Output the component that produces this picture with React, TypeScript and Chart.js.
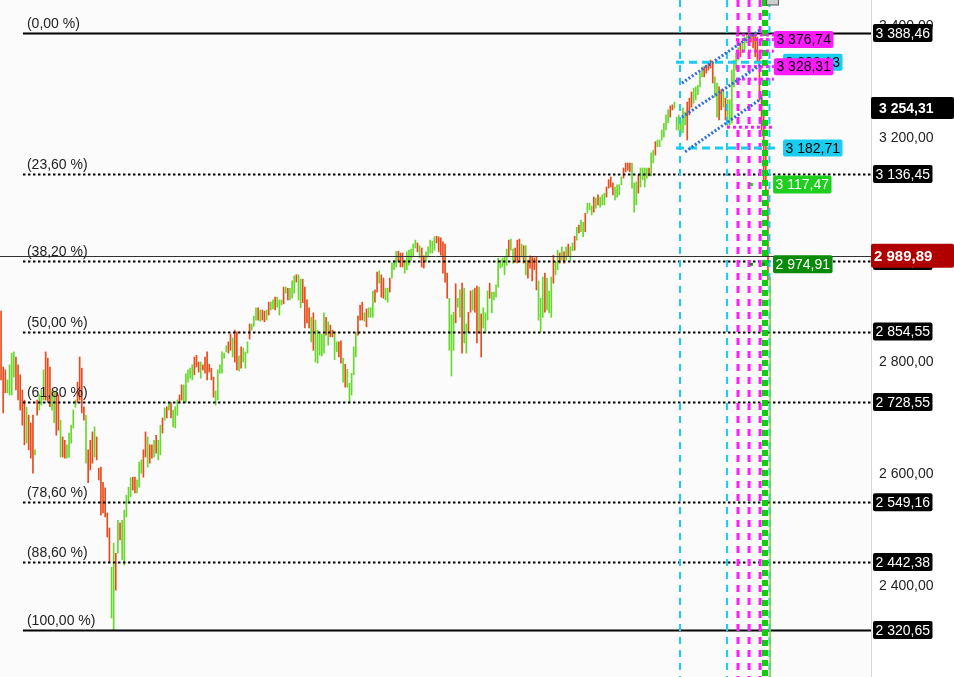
import { useEffect, useRef } from 'react';
import { Chart, registerables } from 'chart.js';

Chart.register(...registerables);

// ---- price bars (high / low / direction u=up d=down) ----
const highs = [
  2891, 2791, 2786, 2768, 2795, 2816, 2818, 2809, 2795, 2777,
  2750, 2732, 2719, 2705, 2691, 2705, 2643, 2732, 2741, 2750,
  2786, 2818, 2807, 2791, 2750, 2745, 2745, 2741, 2696, 2666,
  2660, 2652, 2673, 2687, 2714, 2732, 2764, 2809, 2789, 2720,
  2705, 2643, 2660, 2675, 2684, 2666, 2610,
  2612, 2585, 2575, 2530, 2503, 2433, 2476, 2458, 2517, 2512,
  2517, 2535, 2562, 2576, 2593, 2594, 2594, 2589, 2621, 2625,
  2643, 2675, 2666, 2652, 2652, 2660, 2669, 2660, 2687, 2700,
  2718, 2720, 2727, 2727, 2714, 2720, 2732, 2741, 2759, 2759,
  2779, 2786, 2789, 2795, 2809, 2812, 2800, 2800, 2795, 2809,
  2818, 2796, 2789, 2773, 2748, 2786, 2795, 2818, 2816, 2829,
  2836, 2850, 2843, 2857, 2854, 2811, 2827, 2825, 2818, 2836,
  2868, 2868, 2882, 2897, 2897, 2893, 2893, 2891, 2893, 2907,
  2907, 2911, 2916, 2916, 2911, 2911, 2934, 2934, 2932, 2932,
  2945, 2954, 2956, 2956, 2948, 2948, 2934, 2911, 2897, 2880,
  2888, 2875, 2857, 2850, 2850, 2888, 2880, 2872, 2866, 2857,
  2854, 2836, 2836, 2838, 2807, 2796, 2787, 2762, 2780, 2827,
  2852, 2882, 2902, 2907, 2888, 2895, 2897, 2897, 2927, 2929,
  2961, 2963, 2956, 2950, 2932, 2932, 2950, 2977, 2982, 2998,
  2998, 2995, 2995, 2982, 2997, 3000, 3002, 3011, 3018, 3013,
  3008, 3004, 2990, 2997, 3006, 3018, 3016, 3024, 3025, 3024,
  3022, 3015, 3011, 2959, 2914, 2884, 2889, 2940, 2914, 2929,
  2941, 2932, 2868, 2889, 2927, 2929, 2932, 2936, 2934, 2886,
  2897, 2888, 2927, 2941, 2925, 2925, 2938, 2986, 2982, 2986,
  2988, 3002, 3018, 3020, 3002, 3004, 3018, 3020, 3011, 3008,
  3008, 2982, 2990, 2988, 2986, 2988, 2945, 2914, 2952, 2959,
  2950, 2927, 2952, 2991, 2979, 3000, 2995, 3006, 2997, 3006,
  3011, 3006, 3013, 3025, 3041, 3045, 3054, 3050, 3066, 3084,
  3084, 3079, 3095, 3093, 3099, 3095, 3099, 3102, 3113, 3126,
  3131, 3120, 3113, 3117, 3117, 3131, 3147, 3156, 3156, 3156,
  3156, 3120, 3122, 3134, 3147, 3147, 3147, 3147, 3147, 3174,
  3179, 3194, 3197, 3197, 3215, 3227, 3242, 3251, 3258, 3260,
  3265, 3238, 3242, 3233, 3254, 3247, 3265, 3272, 3283, 3290,
  3292, 3295, 3317, 3328, 3328, 3331, 3337, 3340, 3335, 3310,
  3299, 3292, 3287, 3287, 3272, 3269, 3269, 3322, 3340, 3353,
  3362, 3371, 3372, 3381, 3388.46, 3385, 3386, 3388, 3388, 3381,
  3358, 3278, 3251, 3188, 3108,
];

const lows = [
  2768, 2709, 2745, 2745, 2741, 2741, 2773, 2750, 2732, 2714,
  2687, 2652, 2655, 2643, 2628, 2601, 2634, 2705, 2714, 2723,
  2732, 2732, 2728, 2720, 2714, 2691, 2669, 2678, 2630, 2630,
  2628, 2628, 2630, 2655, 2682, 2719, 2727, 2732, 2709, 2696,
  2619, 2584, 2607, 2619, 2630, 2625, 2589,
  2526, 2530, 2523, 2487, 2441, 2342, 2320.65, 2392, 2458, 2482,
  2446, 2437, 2523, 2548, 2559, 2571, 2566, 2566, 2576, 2601,
  2594, 2630, 2612, 2619, 2628, 2630, 2637, 2625, 2634, 2673,
  2696, 2700, 2714, 2700, 2684, 2682, 2705, 2727, 2732, 2728,
  2728, 2764, 2771, 2768, 2777, 2791, 2782, 2771, 2786, 2780,
  2768, 2782, 2768, 2737, 2723, 2732, 2780, 2780, 2807, 2818,
  2816, 2821, 2809, 2800, 2786, 2784, 2789, 2800, 2789, 2816,
  2841, 2857, 2864, 2875, 2875, 2873, 2875, 2872, 2875, 2884,
  2893, 2895, 2893, 2898, 2884, 2902, 2904, 2923, 2911, 2911,
  2914, 2923, 2943, 2911, 2897, 2906, 2861, 2870, 2861, 2836,
  2821, 2800, 2798, 2812, 2811, 2816, 2848, 2830, 2845, 2845,
  2804, 2818, 2809, 2798, 2764, 2755, 2755, 2728, 2741, 2777,
  2809, 2848, 2875, 2875, 2873, 2863, 2880, 2880, 2880, 2907,
  2925, 2941, 2916, 2914, 2911, 2907, 2925, 2950, 2965, 2970,
  2979, 2970, 2970, 2959, 2965, 2973, 2982, 2988, 3004, 2997,
  2986, 2970, 2968, 2979, 2988, 2995, 2995, 3000, 3013, 2997,
  2991, 2959, 2943, 2914, 2821, 2775, 2821, 2870, 2898, 2880,
  2816, 2834, 2816, 2854, 2889, 2893, 2889, 2834, 2852, 2809,
  2861, 2852, 2875, 2914, 2888, 2911, 2916, 2934, 2968, 2970,
  2956, 2973, 2988, 3000, 2977, 2979, 2977, 2982, 2988, 2977,
  2956, 2950, 2968, 2945, 2965, 2929, 2875, 2854, 2880, 2889,
  2893, 2888, 2880, 2941, 2956, 2965, 2977, 2982, 2977, 2982,
  2990, 2982, 2999, 3000, 3018, 3031, 3033, 3024, 3033, 3066,
  3072, 3063, 3068, 3075, 3081, 3077, 3081, 3081, 3095, 3111,
  3113, 3099, 3090, 3095, 3099, 3117, 3129, 3140, 3143, 3140,
  3111, 3068, 3081, 3102, 3113, 3126, 3113, 3129, 3133, 3133,
  3156, 3170, 3185, 3185, 3197, 3202, 3215, 3228, 3238, 3251,
  3254, 3215, 3215, 3206, 3210, 3224, 3197, 3242, 3256, 3263,
  3269, 3278, 3292, 3310, 3310, 3317, 3322, 3326, 3299, 3274,
  3238, 3233, 3251, 3256, 3233, 3220, 3224, 3227, 3292, 3322,
  3340, 3346, 3353, 3358, 3371, 3367, 3372, 3362, 3346, 3337,
  3268, 3215, 3117, 3108, 2947,
];

const directions = [
  'ddduuuuddd', 'ddudddudu', 'uuddduuddu', 'dduuuuuddd', 'dudddud',
  'dddddduudu', 'duuuuudduu', 'uddudduduu', 'dududuuudd',
  'uuuuudddud', 'ddddduuuuu', 'udduddudu u',
  'uduuududdu', 'duuduuudud', 'uuuduudddd', 'uduuuuudud', 'duudduduuu',
  'uudddudu uu', 'ddudduuduu', 'udddu uuuuu', 'duddu uuuud', 'dddddu uudu',
  'uduudduddu', 'duuuduuuuu', 'uuuduudddu', 'dudddddu uu', 'duuuduudu',
  'dudu udu duu', 'duuudu duuu', 'dddduuuudd', 'dduuuduuuu', 'duuduuuuuu',
  'dduuuuuudd', 'duuuuudddd', 'duuddu duuu', 'uuudu uudd d', 'ddddd',
].join('').replace(/[^ud]/g, '');

// ---- Fibonacci retracement ----
const fibPercents = [0, 23.6, 38.2, 50, 61.8, 78.6, 88.6, 100];
const fibValues = [3388.46, 3136.45, 2980.56, 2854.55, 2728.55, 2549.16, 2442.38, 2320.65];
const fibStartIndex = 10.3;

// ---- axis ----
const yMin = 2236.6;
const yMax = 3447.5;
const xMin = -0.5;
const xMax = 409.5;
const yTicks = [2400, 2600, 2800, 3000, 3200, 3400];

// ---- price markers ----
const lastPrice = 2989.89;
const previousClose = 3254.31;

// ---- tool overlays (index, value) ----
const cyanVerticals = [319.6, 341.7, 361.7];
const magentaVerticals = [346.9, 352.1, 357.3];
const greenVertical = 359.6;
const greenTail = { x: 362.0, from: 2952 };
const channelStarts = [[320.5, 3299], [320.5, 3238], [322.0, 3176]];
const channelEnds = [[357.3, 3394], [358.2, 3333], [358.2, 3272]];
const cyanLevels = [3336.13, 3182.71];
const cyanLevelRange = [[317.7, 362.4], [317.7, 366.7]];
const magentaLevels = [3385, 3376.74, 3356, 3328.31, 3306, 3220];
const magentaLevelStart = [345.9, 345.9, 345.9, 345.9, 345.9, 341.7];
const magentaLevelEnd = 363.8;
const magentaTags = [3376.74, 3328.31];
const cyanTags = [3336.13, 3182.71];
const greenTags = [3117.47, 2974.91];
const greenTagColors = ['#1fcf1f', '#0a8a0a'];
const tagIndex = { magenta: 363.8, cyan: 368.1, green: 363.4 };
const greenDashStart = 352.5;
const markerBox = { x0: 360.1, x1: 365.7, v0: 3447.5, v1: 3438.6 };

const UP = '#66d92a';
const DOWN = '#ea4a1a';
const CYAN = '#19cdf0';
const MAGENTA = '#ff1aff';
const FONT = '"Liberation Sans", Arial, sans-serif';

function fmt(v: number): string {
  const s = v.toFixed(2);
  const [i, d] = s.split('.');
  return i.replace(/\B(?=(\d{3})+(?!\d))/g, ' ') + ',' + d;
}

function roundRect(ctx: CanvasRenderingContext2D, x: number, y: number, w: number, h: number, r: number) {
  ctx.beginPath();
  ctx.moveTo(x + r, y);
  ctx.lineTo(x + w - r, y);
  ctx.quadraticCurveTo(x + w, y, x + w, y + r);
  ctx.lineTo(x + w, y + h - r);
  ctx.quadraticCurveTo(x + w, y + h, x + w - r, y + h);
  ctx.lineTo(x + r, y + h);
  ctx.quadraticCurveTo(x, y + h, x, y + h - r);
  ctx.lineTo(x, y + r);
  ctx.quadraticCurveTo(x, y, x + r, y);
  ctx.closePath();
}

const overlay = {
  id: 'overlay',
  beforeDraw(chart: any) {
    const { ctx, chartArea: a } = chart;
    ctx.save();
    ctx.fillStyle = '#fbfbfb';
    ctx.fillRect(a.left, a.top, a.right - a.left, a.bottom - a.top);
    ctx.restore();
  },
  afterDatasetsDraw(chart: any) {
    const { ctx, chartArea: a } = chart;
    const X = (v: number) => chart.scales.x.getPixelForValue(v);
    const Y = (v: number) => chart.scales.y.getPixelForValue(v);
    const line = (x0: number, y0: number, x1: number, y1: number, color: string, w: number, dash: number[]) => {
      ctx.save();
      ctx.strokeStyle = color;
      ctx.lineWidth = w;
      ctx.setLineDash(dash);
      ctx.beginPath();
      ctx.moveTo(x0, y0);
      ctx.lineTo(x1, y1);
      ctx.stroke();
      ctx.restore();
    };

    // separator of the price axis
    line(a.right + 0.5, a.top, a.right + 0.5, a.bottom, '#d8d8d8', 1, []);

    // fibonacci levels
    fibValues.forEach((v, k) => {
      const y = Math.round(Y(v)) + 0.5;
      const solid = k === 0 || k === fibValues.length - 1;
      line(X(fibStartIndex), y, a.right, y, '#000', 2, solid ? [] : [2.5, 2.5]);
      ctx.save();
      ctx.font = `14px ${FONT}`;
      ctx.fillStyle = '#222';
      ctx.textBaseline = 'bottom';
      ctx.fillText(`(${fibPercents[k].toFixed(2).replace('.', ',')} %)`, X(fibStartIndex) + 4, y - 2);
      ctx.restore();
    });

    // last price line
    const yl = Math.round(Y(lastPrice)) + 0.5;
    line(a.left, yl, a.right, yl, '#333', 1, []);

    // verticals
    cyanVerticals.forEach((v) => line(X(v), a.top, X(v), a.bottom, CYAN, 2, [7, 6]));
    magentaVerticals.forEach((v) => line(X(v), a.top, X(v), a.bottom, MAGENTA, 3, [7, 6]));
    line(X(greenVertical), a.top, X(greenVertical), a.bottom, '#11cc11', 6, [6, 4]);
    line(X(greenTail.x), Y(greenTail.from), X(greenTail.x), a.bottom, UP, 1.5, []);

    // horizontal cyan dashed levels
    cyanLevels.forEach((v, k) => {
      const y = Y(v);
      line(X(cyanLevelRange[k][0]), y, X(cyanLevelRange[k][1]), y, CYAN, 3, [8, 5]);
    });

    // magenta dotted levels
    magentaLevels.forEach((v, k) => {
      const y = Y(v);
      line(X(magentaLevelStart[k]), y, X(magentaLevelEnd), y, MAGENTA, 3, [3, 3]);
    });

    // blue channel
    channelStarts.forEach((s, k) => {
      const e = channelEnds[k];
      line(X(s[0]), Y(s[1]), X(e[0]), Y(e[1]), '#2f6be0', 3, [2, 2]);
    });

    // green level ticks
    greenTags.forEach((v, k) => {
      const y = Y(v);
      line(X(greenDashStart), y, X(tagIndex.green), y, greenTagColors[k], 3, [3, 9]);
    });

    // top marker box
    ctx.save();
    ctx.fillStyle = '#cfcfcf';
    ctx.strokeStyle = '#555';
    ctx.lineWidth = 1;
    const bx0 = X(markerBox.x0), bx1 = X(markerBox.x1), by0 = Y(markerBox.v0), by1 = Y(markerBox.v1);
    ctx.fillRect(bx0, by0, bx1 - bx0, by1 - by0);
    ctx.strokeRect(bx0 + 0.5, by0 - 1, bx1 - bx0, by1 - by0 + 1);
    ctx.restore();
  },
  afterDraw(chart: any) {
    const { ctx, chartArea: a, width } = chart;
    const X = (v: number) => chart.scales.x.getPixelForValue(v);
    const Y = (v: number) => chart.scales.y.getPixelForValue(v);
    const tag = (x: number, v: number, text: string, bg: string, fg: string, font: string, h: number, w?: number, tx?: number) => {
      ctx.save();
      ctx.font = font;
      const tw = ctx.measureText(text).width;
      const bw = w ?? tw + 5;
      const y = Y(v);
      ctx.fillStyle = bg;
      roundRect(ctx, x, y - h / 2, bw, h, 2);
      ctx.fill();
      ctx.fillStyle = fg;
      ctx.textBaseline = 'middle';
      ctx.fillText(text, tx ?? x + 2.5, y + 1);
      ctx.restore();
    };

    // fib price tags on the axis
    fibValues.forEach((v) => tag(a.right + 2, v, fmt(v), '#000', '#fff', `14px ${FONT}`, 18));

    // previous close and last price
    tag(a.right, previousClose, fmt(previousClose), '#000', '#fff', `bold 14px ${FONT}`, 22, width - a.right, a.right + 8);
    tag(a.right, lastPrice, fmt(lastPrice), '#b00000', '#fff', `bold 15px ${FONT}`, 24, width - a.right, a.right + 3);

    // tool tags
    cyanTags.forEach((v) => tag(X(tagIndex.cyan), v, fmt(v), CYAN, '#000', `14px ${FONT}`, 17));
    magentaTags.forEach((v) => tag(X(tagIndex.magenta), v, fmt(v), MAGENTA, '#000', `14px ${FONT}`, 17));
    greenTags.forEach((v, k) => tag(X(tagIndex.green), v, fmt(v), greenTagColors[k], '#fff', `14px ${FONT}`, 18));
  },
};

export default function App() {
  const ref = useRef<HTMLCanvasElement | null>(null);

  useEffect(() => {
    document.body.style.margin = '0';
    const canvas = ref.current;
    if (!canvas) return;
    const data = highs.map((h, i) => ({ x: i, y: [lows[i], h] }));
    const colors = highs.map((_, i) => (directions[i] === 'u' ? UP : DOWN));
    const chart = new Chart(canvas, {
      type: 'bar',
      data: {
        datasets: [
          {
            data: data as any,
            backgroundColor: colors,
            borderWidth: 0,
            barThickness: 1,
            grouped: false,
          } as any,
        ],
      },
      options: {
        animation: false,
        responsive: true,
        maintainAspectRatio: false,
        layout: { padding: 0 },
        plugins: { legend: { display: false }, tooltip: { enabled: false } },
        scales: {
          x: { type: 'linear', min: xMin, max: xMax, display: false, offset: false },
          y: {
            type: 'linear',
            position: 'right',
            min: yMin,
            max: yMax,
            grid: { display: false, drawTicks: false },
            border: { display: false },
            ticks: {
              color: '#222',
              padding: 8,
              crossAlign: 'near',
              font: { family: FONT, size: 14 },
              callback: (v: any) => fmt(Number(v)),
            },
            afterBuildTicks: (s: any) => {
              s.ticks = yTicks.map((value) => ({ value }));
            },
            afterFit: (s: any) => {
              s.width = 83;
              s.paddingTop = 0;
              s.paddingBottom = 0;
            },
          },
        },
      } as any,
      plugins: [overlay],
    });
    return () => chart.destroy();
  }, []);

  return (
    <div style={{ position: 'relative', width: 954, height: 677, background: '#fff' }}>
      <canvas ref={ref} />
    </div>
  );
}
